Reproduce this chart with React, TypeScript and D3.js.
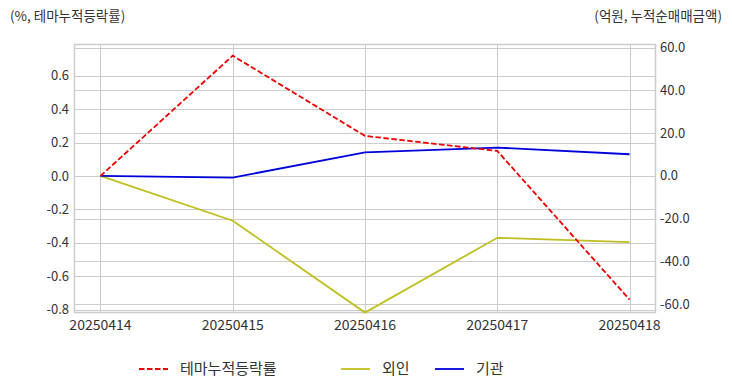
import { useEffect, useRef } from 'react';
import * as d3 from 'd3';

const dates = ['20250414', '20250415', '20250416', '20250417', '20250418'];
const themeRate = [0.0, 0.72, 0.24, 0.15, -0.74];
const foreign = [0.0, -21.0, -64.0, -29.0, -31.0];
const institution = [0.0, -0.8, 11.0, 13.2, 10.1];
const leftTicks = [-0.8, -0.6, -0.4, -0.2, 0.0, 0.2, 0.4, 0.6];
const rightTicks = [-60, -40, -20, 0, 20, 40, 60];

const FONT = '"Noto Sans CJK KR", "Noto Sans", sans-serif';

export default function App() {
  const ref = useRef<SVGSVGElement>(null);

  useEffect(() => {
    const svg = d3.select(ref.current);
    svg.selectAll('*').remove();

    const left = 74, right = 656, top = 44, bottom = 313;

    const x = d3.scalePoint().domain(dates).range([left, right]).padding(0.2);
    const yL = d3.scaleLinear().domain([-0.82, 0.79]).range([bottom, top]);
    const yR = d3.scaleLinear().domain([-64.2, 61.7]).range([bottom, top]);

    const grid = svg.append('g').attr('stroke', '#cccccc').attr('stroke-width', 1);
    leftTicks.forEach(t => {
      grid.append('line').attr('x1', left).attr('x2', right)
        .attr('y1', Math.round(yL(t)) + 0.5).attr('y2', Math.round(yL(t)) + 0.5);
    });
    rightTicks.forEach(t => {
      grid.append('line').attr('x1', left).attr('x2', right)
        .attr('y1', Math.round(yR(t)) + 0.5).attr('y2', Math.round(yR(t)) + 0.5);
    });
    dates.forEach(d => {
      grid.append('line').attr('y1', top).attr('y2', bottom)
        .attr('x1', Math.round(x(d)!) + 0.5).attr('x2', Math.round(x(d)!) + 0.5);
    });
    svg.append('rect').attr('x', left + 0.5).attr('y', top + 0.5)
      .attr('width', right - left - 1).attr('height', bottom - top - 1)
      .attr('fill', 'none').attr('stroke', '#cccccc').attr('stroke-width', 1.5);

    const axisText = svg.append('g').attr('font-family', FONT).attr('font-size', 13).attr('fill', '#333');
    leftTicks.forEach(t => {
      axisText.append('text').attr('x', 69).attr('y', yL(t)).attr('dy', '0.35em')
        .attr('text-anchor', 'end').text(t.toFixed(1));
    });
    rightTicks.forEach(t => {
      axisText.append('text').attr('x', 660).attr('y', yR(t)).attr('dy', '0.35em')
        .attr('text-anchor', 'start').text(t.toFixed(1));
    });
    dates.forEach(d => {
      axisText.append('text').attr('x', x(d)!).attr('y', 325).attr('dy', '0.35em')
        .attr('font-size', 14).attr('text-anchor', 'middle').text(d);
    });

    axisText.append('text').attr('x', 10).attr('y', 16).attr('dy', '0.35em')
      .attr('font-size', 13.5).text('(%, 테마누적등락률)');
    axisText.append('text').attr('x', 722).attr('y', 16).attr('dy', '0.35em')
      .attr('font-size', 13.5).attr('text-anchor', 'end').text('(억원, 누적순매매금액)');

    const lineL = d3.line<number>().x((_, i) => x(dates[i])!).y(v => yL(v));
    const lineR = d3.line<number>().x((_, i) => x(dates[i])!).y(v => yR(v));

    svg.append('path').datum(foreign).attr('d', lineR).attr('fill', 'none')
      .attr('stroke', '#bfbf1f').attr('stroke-width', 1.8);
    svg.append('path').datum(institution).attr('d', lineR).attr('fill', 'none')
      .attr('stroke', '#0000dd').attr('stroke-width', 1.8);
    svg.append('path').datum(themeRate).attr('d', lineL).attr('fill', 'none')
      .attr('stroke', '#ee0000').attr('stroke-width', 1.8).attr('stroke-dasharray', '5.5,2.5');

    const legend = [
      { label: '테마누적등락률', color: '#ee0000', dash: '5.5,2.5', x: 139 },
      { label: '외인', color: '#bfbf1f', dash: null, x: 341 },
      { label: '기관', color: '#0000dd', dash: null, x: 435 },
    ];
    const lg = svg.append('g');
    legend.forEach(l => {
      lg.append('line').attr('x1', l.x).attr('x2', l.x + 29).attr('y1', 369).attr('y2', 369)
        .attr('stroke', l.color).attr('stroke-width', 1.8)
        .attr('stroke-dasharray', l.dash);
      lg.append('text').attr('x', l.x + 41).attr('y', 369).attr('dy', '0.35em')
        .attr('font-family', FONT).attr('font-size', 15).attr('fill', '#333').text(l.label);
    });
  }, []);

  return <svg ref={ref} width={732} height={392} style={{ position: 'absolute', left: 0, top: 0 }}></svg>;
}
